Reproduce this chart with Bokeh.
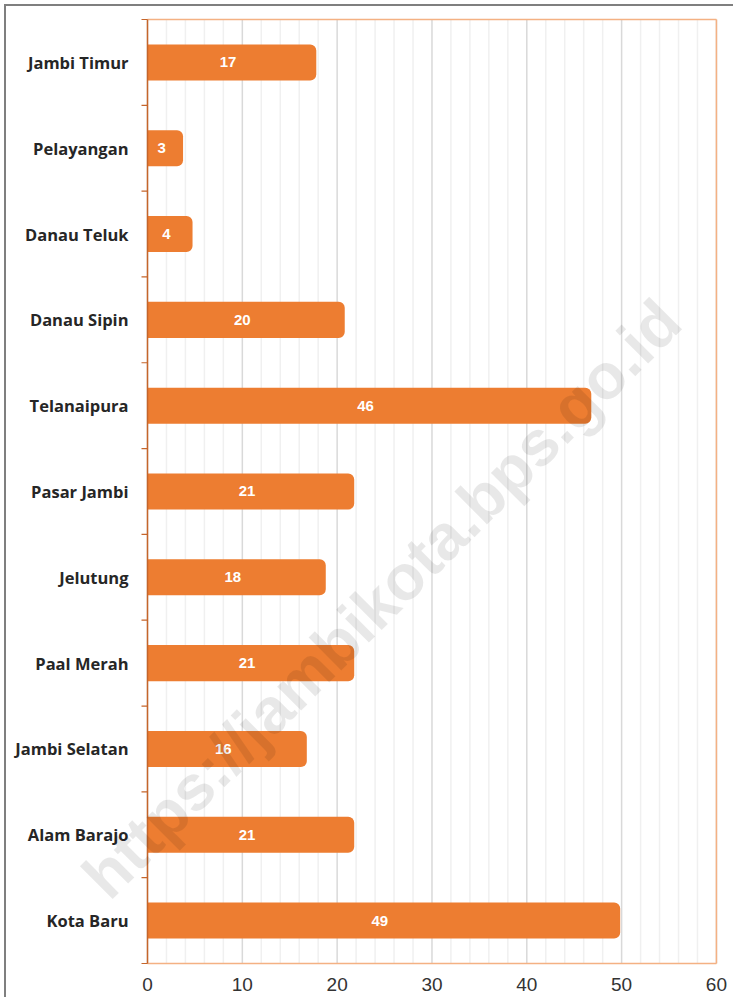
import math
from bokeh.plotting import figure
from bokeh.models import Range1d, FixedTicker, Label, ColumnDataSource
from bokeh.core.properties import value
from bokeh.embed import file_html
from bokeh.resources import INLINE

# ---- data (top to bottom as shown) ----
categories = ["Jambi Timur", "Pelayangan", "Danau Teluk", "Danau Sipin", "Telanaipura",
              "Pasar Jambi", "Jelutung", "Paal Merah", "Jambi Selatan", "Alam Barajo", "Kota Baru"]
labels = [17, 3, 4, 20, 46, 21, 18, 21, 16, 21, 49]
bar_lengths = [17.8, 3.75, 4.75, 20.8, 46.8, 21.8, 18.8, 21.8, 16.8, 21.8, 49.85]
x_ticks = [0, 10, 20, 30, 40, 50, 60]
watermark = "https://jambikota.bps.go.id"

n = len(categories)
ypos = [n - 1 - i for i in range(n)]  # first category on top
y_lo, y_hi = -0.5, n - 0.5
x_lo, x_hi = x_ticks[0], x_ticks[-1]

src = ColumnDataSource(dict(
    cat=categories, y=ypos, length=bar_lengths,
    lab=[str(v) for v in labels], labx=[v / 2 for v in labels],
))

ORANGE = "#ED7D31"
LIGHT_OR = "#F4B183"
DARK_OR = "#C5652A"

# the frame covers the whole figure so the watermark can run over the label area
p = figure(width=729, height=993, output_backend="svg", toolbar_location=None,
           x_range=Range1d(-14.87, 62.01), y_range=Range1d(-0.535, 10.5466),
           min_border_left=0, min_border_right=0, min_border_top=9, min_border_bottom=33,
           background_fill_color="white", border_fill_color="white")
p.outline_line_color = None
p.yaxis.visible = False
p.grid.grid_line_color = None

# grid lines (every 2, darker every 10)
minor = [v for v in range(x_lo, x_hi + 1, 2) if v % 10 != 0]
p.segment(x0=minor, x1=minor, y0=y_lo, y1=y_hi, line_color="#F0F0F0", line_width=1.5)
p.segment(x0=x_ticks, x1=x_ticks, y0=y_lo, y1=y_hi, line_color="#D9D9D9", line_width=1.5)

# bars
p.hbar(y="y", left=0, right="length", height=0.42, source=src,
       fill_color=ORANGE, line_color=None, border_radius=(0, 6, 6, 0))

# frame lines: top, right, bottom
p.segment(x0=[x_lo, x_hi, x_lo], x1=[x_hi, x_hi, x_hi], y0=[y_hi, y_lo, y_lo], y1=[y_hi, y_hi, y_lo],
          line_color=LIGHT_OR, line_width=1.5)

# left axis with ticks at category boundaries
bounds = [k - 0.5 for k in range(n + 1)]
p.segment(x0=0, x1=0, y0=y_lo, y1=y_hi, line_color=DARK_OR, line_width=1.5)
p.segment(x0=[-6 / 9.4833] * len(bounds), x1=[0] * len(bounds), y0=bounds, y1=bounds,
          line_color=DARK_OR, line_width=1.2)

# category labels
p.text(x=0, y="y", text="cat", source=src, x_offset=-19, text_align="right",
       text_baseline="middle", text_color="#262626", text_font=value("Open Sans"),
       text_font_style="bold", text_font_size="16.5px")

# value labels
p.text(x="labx", y="y", text="lab", source=src, text_align="center", text_baseline="middle",
       text_color="white", text_font=value("Liberation Sans"), text_font_style="bold",
       text_font_size="15px")

# x axis (labels only)
xa = p.xaxis[0]
xa.ticker = FixedTicker(ticks=x_ticks)
xa.axis_line_color = None
xa.major_tick_line_color = None
xa.minor_tick_line_color = None
xa.major_tick_out = 0
xa.major_tick_in = 0
xa.major_label_standoff = 11
xa.major_label_text_font = "Liberation Sans"
xa.major_label_text_font_size = "19px"
xa.major_label_text_color = "#333333"

# watermark
p.add_layout(Label(x=24.7, y=3.75, text=watermark, angle=math.pi / 4,
                   text_align="center", text_baseline="middle",
                   text_font="Liberation Sans", text_font_style="bold",
                   text_font_size="64px", text_color="black", text_alpha=0.09))

p.styles = {"margin-left": "4px", "margin-top": "4px",
            "border-left": "2px solid #7F7F7F", "border-top": "2px solid #7F7F7F"}

open("out.html", "w").write(file_html(p, INLINE))
